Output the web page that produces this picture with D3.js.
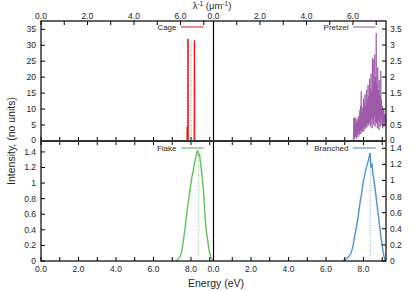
<!DOCTYPE html>
<meta charset="utf-8">

<style>
body{
	background-color: #fff;
	margin: 0px;
}
svg{
	font-family: "Liberation Sans", Arial, sans-serif;
}
</style>

<body></body>

<script src="https://d3js.org/d3.v7.min.js"></script>

<script>

// ---- data ----
var cageE = [7.60, 7.79, 7.80, 7.81, 7.825, 7.835, 7.845, 7.855, 8.17, 8.18, 8.19, 8.20, 8.40]
var cageI = [0,    0,    4.5,  0,    0,     32,    31,    0,     0,    31.5, 31,   0,    0]
var cageMean = [8.01, 31.5]

var pretzelE = [7.46,7.48,7.50,7.52,7.54,7.56,7.58,7.60,7.62,7.64,7.66,7.68,7.70,7.72,7.74,7.76,7.78,7.80,7.82,7.84,
	7.86,7.88,7.90,7.92,7.94,7.96,7.98,8.00,8.02,8.04,8.06,8.08,8.10,8.12,8.14,8.16,8.18,8.20,8.22,8.24,
	8.26,8.28,8.30,8.32,8.34,8.36,8.38,8.40,8.42,8.44,8.46,8.48,8.50,8.52,8.54,8.56,8.58,8.60,8.62,8.64,
	8.66,8.68,8.70,8.72,8.74,8.76,8.78,8.80,8.82,8.84,8.86,8.88,8.90,8.92,8.94,8.96,8.98,9.00,9.02,9.04,
	9.06,9.08,9.10,9.12,9.14,9.16,9.18,9.20]
var pretzelI = [0,0.72,0.05,0.70,0.10,0.74,0.15,0.55,0.08,0.68,0.20,0.62,0.12,0.78,0.25,0.70,0.18,0.95,0.30,1.10,
	0.22,1.55,0.35,0.90,0.28,1.05,0.40,1.33,0.30,1.20,0.45,1.45,0.38,1.10,0.50,1.60,0.42,1.30,0.55,1.75,
	0.48,1.40,0.60,1.95,0.52,1.65,0.45,2.10,0.70,1.55,0.40,2.60,0.65,2.55,0.50,1.85,0.75,2.70,0.45,2.00,
	0.60,3.37,0.55,1.80,0.40,2.30,0.65,1.60,0.35,1.90,0.60,1.40,0.45,2.19,0.70,1.30,0.50,1.10,0.40,0.95,
	0.55,1.00,0.45,0.85,0.60,0.80,0.50,0.70]

var flakeE = [7.20,7.25,7.30,7.35,7.40,7.45,7.50,7.55,7.60,7.65,7.70,7.75,7.80,7.85,7.90,7.95,8.00,8.05,8.10,8.15,
	8.20,8.25,8.30,8.35,8.40,8.45,8.50,8.55,8.60,8.65,8.70,8.75,8.80,8.85,8.90,8.95,9.00,9.05,9.10,9.15,9.20]
var flakeI = [0,0.01,0.02,0.03,0.05,0.08,0.12,0.19,0.27,0.36,0.45,0.56,0.66,0.74,0.83,0.92,1.00,1.08,1.13,1.20,
	1.27,1.33,1.38,1.42,1.36,1.37,1.28,1.18,1.06,0.94,0.78,0.56,0.42,0.33,0.25,0.16,0.10,0.06,0.03,0.01,0]
var flakeMean = [8.40, 1.40]

var branchedE = [6.90,6.95,7.00,7.05,7.10,7.15,7.20,7.25,7.30,7.35,7.40,7.45,7.50,7.55,7.60,7.65,7.70,7.75,7.80,7.85,
	7.90,7.95,8.00,8.05,8.10,8.15,8.20,8.25,8.30,8.35,8.40,8.45,8.50,8.55,8.60,8.65,8.70,8.75,8.80,8.85,
	8.90,8.95,9.00,9.05,9.10,9.15,9.20]
var branchedI = [0,0.01,0.01,0.02,0.03,0.04,0.05,0.07,0.08,0.11,0.15,0.20,0.27,0.33,0.39,0.46,0.53,0.61,0.70,0.77,
	0.84,0.93,1.00,1.05,1.11,1.16,1.20,1.24,1.29,1.34,1.16,1.21,1.08,1.02,0.93,0.84,0.74,0.64,0.55,0.45,
	0.36,0.27,0.18,0.11,0.05,0.01,0]
var branchedMean = [8.36, 1.30]

var energyTicks = [0, 2, 4, 6, 8]
var lambdaTicks = [0, 2, 4, 6]
var tlTicks = [0, 5, 10, 15, 20, 25, 30, 35]
var trTicks = [0, 0.5, 1, 1.5, 2, 2.5, 3, 3.5]
var bTicks  = [0, 0.2, 0.4, 0.6, 0.8, 1, 1.2, 1.4]

var eVperInvMicron = 1.23984

// ---- layout ----
var width = 415, height = 291
var L = 41, M = 213.5, R = 386, T = 21, C = 141, B = 261

var svg = d3.select('body')
	.append('svg')
		.attr('width', width)
		.attr('height', height)

var xLeft  = d3.scaleLinear().domain([0, 9.2]).range([L, M])
var xRight = d3.scaleLinear().domain([0, 9.2]).range([M, R])
var yTL = d3.scaleLinear().domain([0, 37.6]).range([C, T])
var yTR = d3.scaleLinear().domain([0, 3.75]).range([C, T])
var yBL = d3.scaleLinear().domain([0, 1.54]).range([B, C])
var yBR = d3.scaleLinear().domain([0, 1.49]).range([B, C])

var panels = [
	{name: 'Cage',     x: xLeft,  y: yTL, E: cageE,     I: cageI,     mean: cageMean,     color: '#e41a1c', light: '#f08080', top: true,  left: true,  sw: 1},
	{name: 'Pretzel',  x: xRight, y: yTR, E: pretzelE,  I: pretzelI,  mean: null,         color: '#984ea3', light: '#c59bcc', top: true,  left: false, sw: 0.7},
	{name: 'Flake',    x: xLeft,  y: yBL, E: flakeE,    I: flakeI,    mean: flakeMean,    color: '#4daf4a', light: '#92d190', top: false, left: true,  sw: 1},
	{name: 'Branched', x: xRight, y: yBR, E: branchedE, I: branchedI, mean: branchedMean, color: '#377eb8', light: '#86b3da', top: false, left: false, sw: 1}
]

var textColor = '#262626'

panels.forEach(function(p, k){
	var x = p.x, y = p.y
	var x0 = x.range()[0], x1 = x.range()[1]
	var y0 = y.range()[0], y1 = y.range()[1]

	svg.append('clipPath').attr('id', 'clip' + k)
		.append('rect').attr('x', x0).attr('y', y1).attr('width', x1 - x0).attr('height', y0 - y1)

	var g = svg.append('g').attr('clip-path', 'url(#clip' + k + ')')

	var pts = p.E.map(function(e, i){ return [e, p.I[i]] })
	var line = d3.line().x(function(d){ return x(d[0]) }).y(function(d){ return y(d[1]) })

	if (p.mean){
		g.append('line')
			.attr('x1', x(p.mean[0])).attr('x2', x(p.mean[0]))
			.attr('y1', y(0)).attr('y2', y(p.mean[1]))
			.attr('stroke', p.light).attr('stroke-width', 1)
			.attr('stroke-dasharray', '1,1.5')
	}

	// lighter under-stroke, then the series
	g.append('path').datum(pts)
		.attr('d', line).attr('fill', 'none')
		.attr('stroke', p.light).attr('stroke-width', p.sw * 2).attr('stroke-opacity', 0.5)
	g.append('path').datum(pts)
		.attr('d', line).attr('fill', 'none')
		.attr('stroke', p.color).attr('stroke-width', p.sw).attr('stroke-opacity', 0.9)

	// y ticks
	var yt = p.top ? (p.left ? tlTicks : trTicks) : bTicks
	var xe = p.left ? x0 : x1
	var dir = p.left ? 1 : -1
	yt.forEach(function(v){
		svg.append('line')
			.attr('x1', xe).attr('x2', xe + dir * 4)
			.attr('y1', y(v)).attr('y2', y(v))
			.attr('stroke', '#000').attr('stroke-width', 1)
		svg.append('text')
			.attr('x', p.left ? xe - 5 : xe + 4)
			.attr('y', y(v) + 3 + (v === 0 && p.top ? -1 : 0))
			.attr('text-anchor', p.left ? 'end' : 'start')
			.attr('font-size', 8.5)
			.attr('fill', textColor)
			.text(v)
	})

	// energy ticks on horizontal edges (every 1 eV)
	d3.range(0, 10).forEach(function(e){
		var px = x(e)
		if (px > x1 + 0.5) return
		if (p.top){
			svg.append('line').attr('x1', px).attr('x2', px).attr('y1', C).attr('y2', C - 4)
				.attr('stroke', '#000').attr('stroke-width', 1)
		} else {
			svg.append('line').attr('x1', px).attr('x2', px).attr('y1', C).attr('y2', C + 4)
				.attr('stroke', '#000').attr('stroke-width', 1)
			svg.append('line').attr('x1', px).attr('x2', px).attr('y1', B).attr('y2', B - 4)
				.attr('stroke', '#000').attr('stroke-width', 1)
		}
	})

	if (!p.top){
		energyTicks.forEach(function(e){
			svg.append('text')
				.attr('x', x(e)).attr('y', B + 11)
				.attr('text-anchor', 'middle')
				.attr('font-size', 8.5)
				.attr('fill', textColor)
				.text(d3.format('.1f')(e))
		})
	} else {
		// inverse wavelength axis on top
		var xl = d3.scaleLinear().domain([0, 9.2 / eVperInvMicron]).range([x0, x1])
		d3.range(0, 8).forEach(function(l){
			svg.append('line').attr('x1', xl(l)).attr('x2', xl(l)).attr('y1', T).attr('y2', T + 4)
				.attr('stroke', '#000').attr('stroke-width', 1)
		})
		lambdaTicks.forEach(function(l){
			svg.append('text')
				.attr('x', xl(l)).attr('y', T - 2.5)
				.attr('text-anchor', 'middle')
				.attr('font-size', 8.5)
				.attr('fill', textColor)
				.text(d3.format('.1f')(l))
		})
	}

	// legend
	var ly = p.top ? 27 : 148
	var lx = p.left ? 181 : 353
	svg.append('text')
		.attr('x', lx - 4.5).attr('y', ly + 3)
		.attr('text-anchor', 'end')
		.attr('font-size', 8)
		.attr('fill', textColor)
		.text(p.name)
	svg.append('line')
		.attr('x1', lx).attr('x2', lx + 22.5)
		.attr('y1', ly).attr('y2', ly)
		.attr('stroke', p.color).attr('stroke-width', 1)
})

// frame
svg.append('rect')
	.attr('x', L).attr('y', T).attr('width', R - L).attr('height', B - T)
	.attr('fill', 'none').attr('stroke', '#000').attr('stroke-width', 1.2)
svg.append('line')
	.attr('x1', M).attr('x2', M).attr('y1', T).attr('y2', B)
	.attr('stroke', '#000').attr('stroke-width', 1.2)
svg.append('line')
	.attr('x1', L).attr('x2', R).attr('y1', C).attr('y2', C)
	.attr('stroke', '#333').attr('stroke-width', 2)

// axis titles
var lam = svg.append('text')
	.attr('x', 212).attr('y', 9)
	.attr('text-anchor', 'middle')
	.attr('font-size', 9.5)
	.attr('fill', textColor)
lam.append('tspan').text('\u03bb')
lam.append('tspan').attr('dy', -3.5).attr('font-size', 6.5).text('-1')
lam.append('tspan').attr('dy', 3.5).text(' (\u03bcm')
lam.append('tspan').attr('dy', -3.5).attr('font-size', 6.5).text('-1')
lam.append('tspan').attr('dy', 3.5).text(')')

svg.append('text')
	.attr('x', 216).attr('y', 287)
	.attr('text-anchor', 'middle')
	.attr('font-size', 10.5)
	.attr('fill', textColor)
	.text('Energy (eV)')

svg.append('text')
	.attr('transform', 'translate(15,141) rotate(-90)')
	.attr('text-anchor', 'middle')
	.attr('font-size', 10.5)
	.attr('fill', textColor)
	.text('Intensity, (no units)')

</script>
